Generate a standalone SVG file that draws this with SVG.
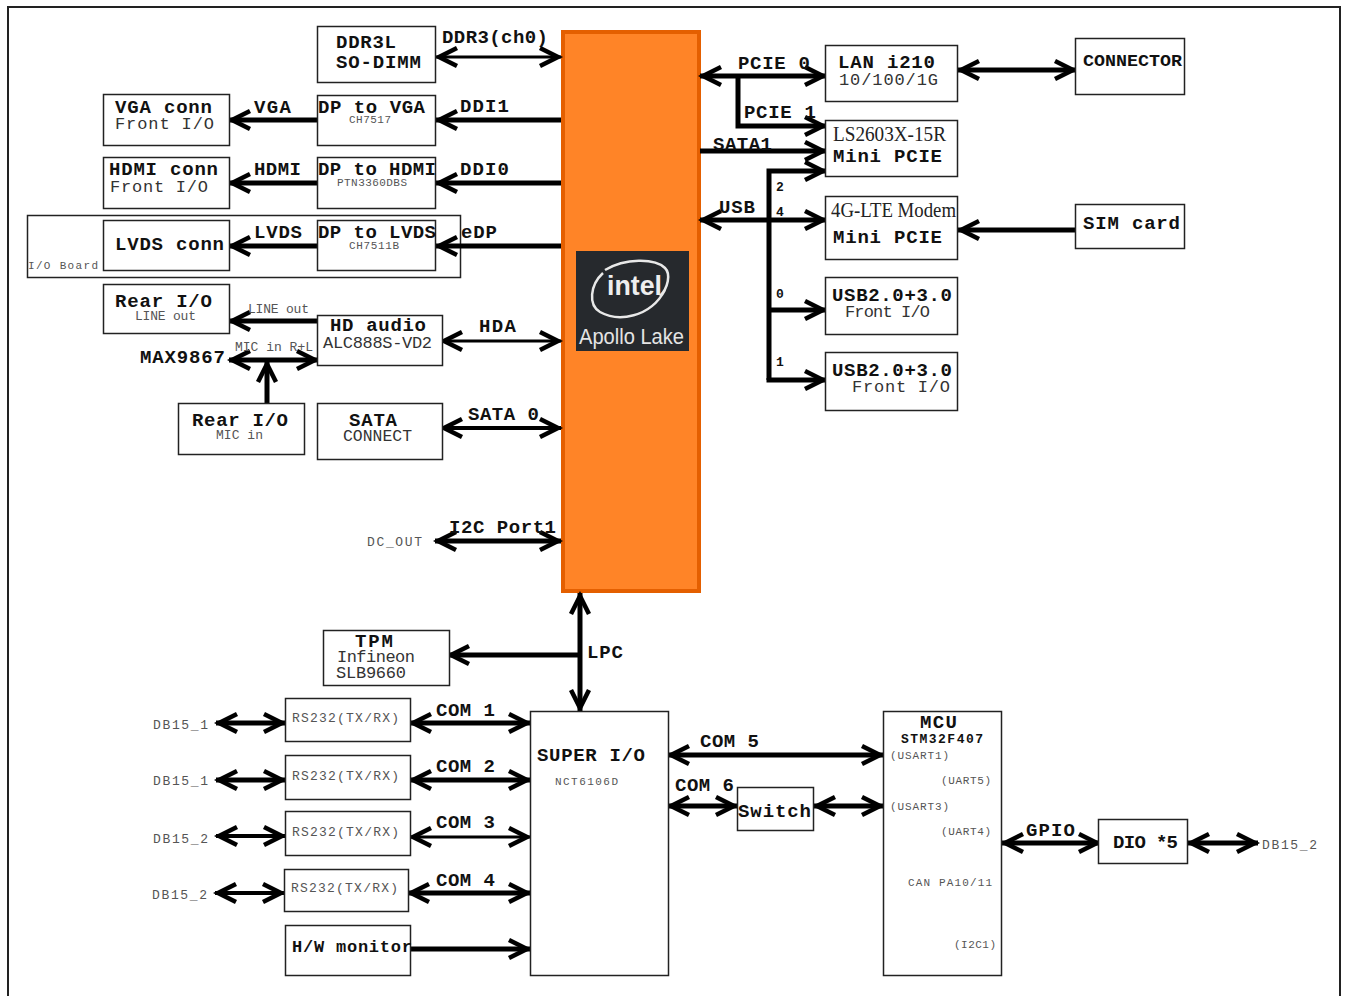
<svg xmlns="http://www.w3.org/2000/svg" width="1347" height="996" viewBox="0 0 1347 996">
<style>
text{font-family:"Liberation Mono",monospace;fill:#111}
.b{font-weight:700;font-size:19px}
.r{font-size:17px;fill:#333}
.s{font-size:11px;fill:#555}
.m{font-size:13px;fill:#555}
.t{font-family:"Liberation Serif",serif;font-size:20px;fill:#222}
.n rect{fill:#fff;stroke:#222;stroke-width:1.5}
#connectors path,#connectors line{fill:none;stroke:#000;stroke-linecap:butt;stroke-linejoin:miter}
.w3{stroke-width:3}.w4{stroke-width:4}.w5{stroke-width:5}
.a{marker-end:url(#h)}
.d{marker-start:url(#h);marker-end:url(#h)}
</style>
<defs>
<marker id="h" markerUnits="userSpaceOnUse" markerWidth="34" markerHeight="34" refX="30" refY="17" orient="auto-start-reverse" viewBox="0 0 34 34">
<path d="M9 8 L27 17 L9 26" fill="none" stroke="#000" stroke-width="4.5"/>
</marker>
</defs>
<path id="frame" d="M8 996V7H1340V996" fill="none" stroke="#222" stroke-width="2"/>
<g id="io-board" class="n"><rect x="27.500" y="215.500" width="433" height="62"/><text class="s" x="28" y="269" textLength="70">I/O Board</text></g>
<g id="cpu"><rect x="563" y="32" width="136" height="559" fill="#ff8427" stroke="#e45f00" stroke-width="4"/>
<rect x="576" y="251" width="113" height="100" fill="#26292d"/>
<path d="M603 273C590 285 588 305 600 312C618 322 650 318 665 290M605 270C625 258 655 258 665 268C671 274 668 288 660 296" fill="none" stroke="#e8e8e8" stroke-width="2.500"/>
<text x="607" y="295" style="font-family:'Liberation Sans',sans-serif;font-weight:700;font-size:28px;fill:#eee" textLength="55" lengthAdjust="spacingAndGlyphs">intel</text>
<text x="579" y="344" style="font-family:'Liberation Sans',sans-serif;font-size:22px;fill:#e4e4e4" textLength="105" lengthAdjust="spacingAndGlyphs">Apollo Lake</text></g>
<g id="connectors">
<line class="d w3" x1="436" y1="57" x2="561" y2="57"/>
<line class="a w5" x1="561" y1="120" x2="436" y2="120"/>
<line class="a w5" x1="318" y1="120" x2="229" y2="120"/>
<line class="a w5" x1="561" y1="183" x2="436" y2="183"/>
<line class="a w5" x1="318" y1="183" x2="229" y2="183"/>
<line class="a w5" x1="561" y1="246" x2="436" y2="246"/>
<line class="a w5" x1="318" y1="246" x2="229" y2="246"/>
<line class="a w5" x1="318" y1="321" x2="229" y2="321"/>
<line class="d w5" x1="229" y1="360" x2="318" y2="360"/>
<line class="a w5" x1="267" y1="404" x2="267" y2="361"/>
<line class="d w3" x1="441" y1="341" x2="561" y2="341"/>
<line class="d w4" x1="441" y1="428" x2="561" y2="428"/>
<line class="d w5" x1="435" y1="541" x2="561" y2="541"/>
<line class="d w5" x1="700" y1="76" x2="826" y2="76"/>
<path class="a w5" d="M738 76V126H826"/>
<line class="a w5" x1="700" y1="151" x2="826" y2="151"/>
<path class="a w5" d="M769 380V171H826"/>
<line class="d w5" x1="700" y1="220" x2="826" y2="220"/>
<line class="a w5" x1="769" y1="310" x2="826" y2="310"/>
<path class="a w5" d="M769 378V380H826"/>
<line class="d w5" x1="958" y1="70" x2="1076" y2="70"/>
<line class="a w5" x1="1076" y1="230" x2="958" y2="230"/>
<line class="d w5" x1="580" y1="593" x2="580" y2="711"/>
<line class="a w5" x1="580" y1="655" x2="448" y2="655"/>
<line class="d w5" x1="216" y1="723" x2="285" y2="723"/>
<line class="d w5" x1="216" y1="780" x2="285" y2="780"/>
<line class="d w4" x1="216" y1="836" x2="285" y2="836"/>
<line class="d w4" x1="215" y1="893" x2="284" y2="893"/>
<line class="d w5" x1="410" y1="723" x2="530" y2="723"/>
<line class="d w5" x1="410" y1="780" x2="530" y2="780"/>
<line class="d w3" x1="410" y1="837" x2="530" y2="837"/>
<line class="d w5" x1="408" y1="893" x2="530" y2="893"/>
<line class="a w5" x1="411" y1="949" x2="530" y2="949"/>
<line class="d w5" x1="668" y1="755" x2="883" y2="755"/>
<line class="d w5" x1="668" y1="806" x2="737" y2="806"/>
<line class="d w5" x1="814" y1="806" x2="883" y2="806"/>
<line class="d w5" x1="1002" y1="843" x2="1100" y2="843"/>
<line class="d w5" x1="1188" y1="843" x2="1258" y2="843"/>
</g>
<g id="ddr" class="n"><rect x="317.500" y="26.500" width="118" height="56"/><text class="b" x="336" y="48" textLength="60">DDR3L</text><text class="b" x="336" y="68" textLength="85">SO-DIMM</text></g>
<g id="dp-vga" class="n"><rect x="317.500" y="95.500" width="118" height="50"/><text class="b" x="318" y="113" textLength="107">DP to VGA</text><text class="s" x="349" y="123" textLength="42">CH7517</text></g>
<g id="dp-hdmi" class="n"><rect x="317.500" y="157.500" width="118" height="51"/><text class="b" x="318" y="175" textLength="118">DP to HDMI</text><text class="s" x="337" y="186" textLength="70">PTN3360DBS</text></g>
<g id="dp-lvds" class="n"><rect x="317.500" y="220.500" width="118" height="50"/><text class="b" x="318" y="238" textLength="118">DP to LVDS</text><text class="s" x="349" y="249" textLength="50">CH7511B</text></g>
<g id="vga" class="n"><rect x="103.500" y="94.500" width="126" height="51"/><text class="b" x="115" y="113" textLength="97">VGA conn</text><text class="r" x="115" y="129" textLength="99">Front I/O</text></g>
<g id="hdmi" class="n"><rect x="103.500" y="157.500" width="126" height="51"/><text class="b" x="109" y="175" textLength="109">HDMI conn</text><text class="r" x="110" y="192" textLength="98">Front I/O</text></g>
<g id="lvds" class="n"><rect x="103.500" y="220.500" width="126" height="50"/><text class="b" x="115" y="250" textLength="109">LVDS conn</text></g>
<g id="rear-line" class="n"><rect x="103.500" y="284.500" width="126" height="49"/><text class="b" x="115" y="307" textLength="97">Rear I/O</text><text class="m" x="135" y="320" textLength="61">LINE out</text></g>
<g id="hd-audio" class="n"><rect x="317.500" y="315.500" width="125" height="50"/><text class="b" x="330" y="331" textLength="96">HD audio</text><text class="r" x="323" y="348" textLength="109">ALC888S-VD2</text></g>
<g id="rear-mic" class="n"><rect x="178.500" y="403.500" width="126" height="51"/><text class="b" x="192" y="426" textLength="96">Rear I/O</text><text class="m" x="216" y="439" textLength="47">MIC in</text></g>
<g id="sata" class="n"><rect x="317.500" y="403.500" width="125" height="56"/><text class="b" x="349" y="426" textLength="48">SATA</text><text class="r" x="343" y="441" textLength="69" lengthAdjust="spacingAndGlyphs">CONNECT</text></g>
<g id="lan" class="n"><rect x="825.500" y="45.500" width="132" height="56"/><text class="b" x="838" y="68" textLength="97">LAN i210</text><text class="r" x="839" y="85" textLength="99">10/100/1G</text></g>
<g id="connector" class="n"><rect x="1075.500" y="38.500" width="109" height="56"/><text class="b" x="1083" y="66" style="font-size:17px" textLength="99" lengthAdjust="spacingAndGlyphs">CONNECTOR</text></g>
<g id="mini1" class="n"><rect x="825.500" y="120.500" width="132" height="56"/><text class="t" x="833" y="141" textLength="113" lengthAdjust="spacingAndGlyphs">LS2603X-15R</text><text class="b" x="833" y="162" textLength="109">Mini PCIE</text></g>
<g id="mini2" class="n"><rect x="825.500" y="196.500" width="132" height="63"/><text class="t" x="831" y="217" textLength="125" lengthAdjust="spacingAndGlyphs">4G-LTE Modem</text><text class="b" x="833" y="243" textLength="109">Mini PCIE</text></g>
<g id="sim" class="n"><rect x="1075.500" y="204.500" width="109" height="44"/><text class="b" x="1083" y="229" textLength="97">SIM card</text></g>
<g id="usb1" class="n"><rect x="825.500" y="277.500" width="132" height="57"/><text class="b" x="832" y="301" textLength="120">USB2.0+3.0</text><text class="r" x="845" y="317" textLength="85">Front I/O</text></g>
<g id="usb2" class="n"><rect x="825.500" y="352.500" width="132" height="58"/><text class="b" x="832" y="376" textLength="120">USB2.0+3.0</text><text class="r" x="852" y="392" textLength="98">Front I/O</text></g>
<g id="tpm" class="n"><rect x="323.500" y="630.500" width="126" height="55"/><text class="b" x="355" y="647" textLength="38">TPM</text><text class="r" x="337" y="662" textLength="78">Infineon</text><text class="r" x="336" y="678" textLength="70">SLB9660</text></g>
<g id="rs1" class="n"><rect x="285.500" y="698.500" width="125" height="43"/><text class="m" x="292" y="722" textLength="107">RS232(TX/RX)</text></g>
<g id="rs2" class="n"><rect x="285.500" y="755.500" width="125" height="44"/><text class="m" x="292" y="780" textLength="107">RS232(TX/RX)</text></g>
<g id="rs3" class="n"><rect x="285.500" y="811.500" width="125" height="44"/><text class="m" x="292" y="836" textLength="107">RS232(TX/RX)</text></g>
<g id="rs4" class="n"><rect x="284.500" y="869.500" width="124" height="42"/><text class="m" x="291" y="892" textLength="107">RS232(TX/RX)</text></g>
<g id="hw" class="n"><rect x="285.500" y="925.500" width="125" height="50"/><text class="b" x="292" y="952" style="font-size:17px" textLength="120">H/W monitor</text></g>
<g id="superio" class="n"><rect x="530.500" y="711.500" width="138" height="264"/><text class="b" x="537" y="761" textLength="108">SUPER I/O</text><text class="s" x="555" y="785" textLength="63">NCT6106D</text></g>
<g id="switch" class="n"><rect x="737.500" y="787.500" width="76" height="43"/><text class="b" x="738" y="817" textLength="73">Switch</text></g>
<g id="mcu" class="n"><rect x="883.500" y="711.500" width="118" height="264"/><text class="b" x="920" y="728" textLength="37">MCU</text><text class="b" x="901" y="743" style="font-size:13px" textLength="82">STM32F407</text><text class="s" x="890" y="759" textLength="59">(USART1)</text><text class="s" x="941" y="784" textLength="50">(UART5)</text><text class="s" x="890" y="810" textLength="59">(USART3)</text><text class="s" x="941" y="835" textLength="50">(UART4)</text><text class="s" x="908" y="886" textLength="84">CAN PA10/11</text><text class="s" x="954" y="948" textLength="42">(I2C1)</text></g>
<g id="dio" class="n"><rect x="1098.500" y="819.500" width="89" height="44"/><text class="b" x="1113" y="848" textLength="65">DIO *5</text></g>
<g id="labels">
<text class="b" x="442" y="43" textLength="106">DDR3(ch0)</text>
<text class="b" x="254" y="113" textLength="37">VGA</text><text class="b" x="460" y="112" textLength="49">DDI1</text>
<text class="b" x="254" y="175" textLength="47">HDMI</text><text class="b" x="460" y="175" textLength="49">DDI0</text>
<text class="b" x="254" y="238" textLength="48">LVDS</text><text class="b" x="461" y="238" textLength="36">eDP</text>
<text class="m" x="248" y="313" textLength="61">LINE out</text>
<text class="m" x="235" y="351" textLength="78">MIC in R+L</text>
<text class="b" x="140" y="363" textLength="85">MAX9867</text>
<text class="b" x="479" y="332" textLength="37">HDA</text>
<text class="b" x="468" y="420" textLength="71">SATA 0</text>
<text class="b" x="449" y="533" textLength="107">I2C Port1</text>
<text class="m" x="367" y="546" textLength="55">DC_OUT</text>
<text class="b" x="738" y="69" textLength="72">PCIE 0</text>
<text class="b" x="744" y="118" textLength="72">PCIE 1</text>
<text class="b" x="713" y="150" textLength="59">SATA1</text>
<text class="b" x="719" y="213" textLength="36">USB</text>
<text class="b" x="776" y="191" style="font-size:13px" textLength="9">2</text>
<text class="b" x="776" y="216" style="font-size:13px" textLength="9">4</text>
<text class="b" x="776" y="298" style="font-size:13px" textLength="9">0</text>
<text class="b" x="776" y="366" style="font-size:13px" textLength="9">1</text>
<text class="b" x="587" y="658" textLength="36">LPC</text>
<text class="b" x="436" y="716" textLength="59">COM 1</text>
<text class="b" x="436" y="772" textLength="59">COM 2</text>
<text class="b" x="436" y="828" textLength="59">COM 3</text>
<text class="b" x="436" y="886" textLength="59">COM 4</text>
<text class="b" x="700" y="747" textLength="59">COM 5</text>
<text class="b" x="675" y="791" textLength="59">COM 6</text>
<text class="b" x="1026" y="836" textLength="49">GPIO</text>
<text class="m" x="153" y="729" textLength="55">DB15_1</text>
<text class="m" x="153" y="785" textLength="55">DB15_1</text>
<text class="m" x="153" y="843" textLength="55">DB15_2</text>
<text class="m" x="152" y="899" textLength="55">DB15_2</text>
<text class="m" x="1262" y="849" textLength="55">DB15_2</text>
</g>
</svg>
